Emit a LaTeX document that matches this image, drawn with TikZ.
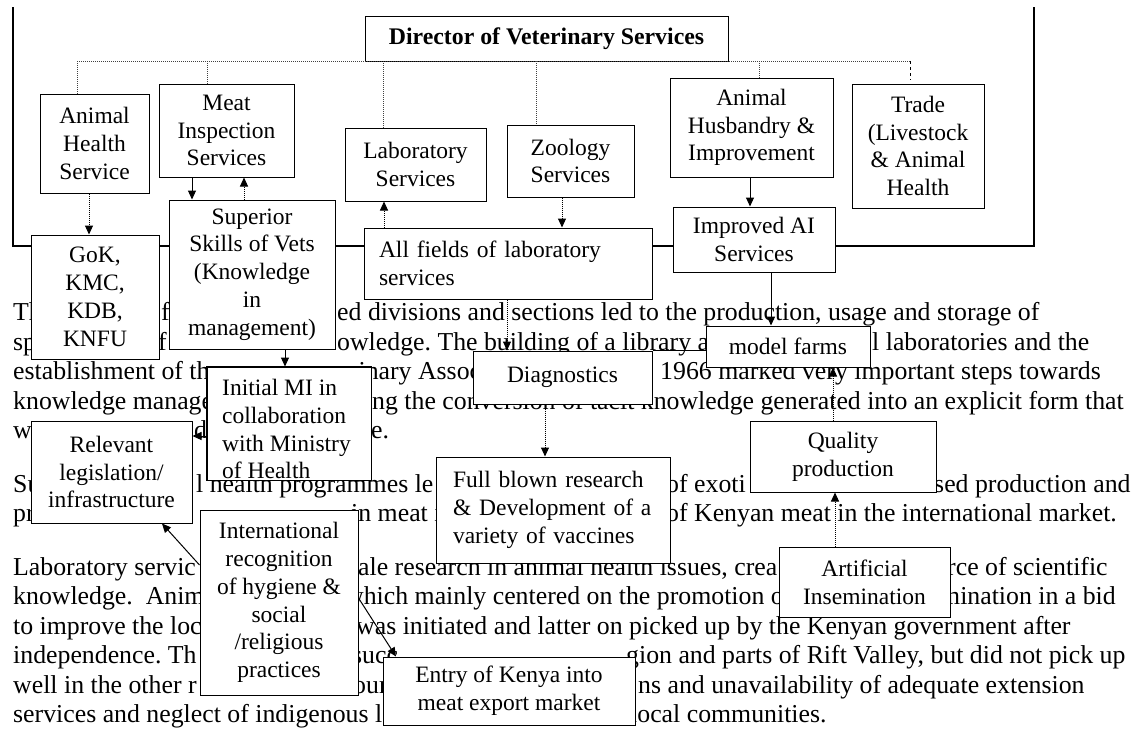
\documentclass[tikz,border=0pt]{standalone}
\usepackage{fontspec}
\setmainfont{Liberation Serif}
\usetikzlibrary{arrows.meta}
\newcommand\bxfont{\fontsize{23.5}{27.8}\selectfont}
\newcommand\pfont{\fontsize{25.8}{29.5}\selectfont}
\newcommand\dirfont{\fontsize{23.8}{28}\selectfont\bfseries}
\begin{document}
\frenchspacing
\begin{tikzpicture}[x=1pt,y=-1pt,
  bx/.style={draw=black, line width=1pt, fill=white, inner sep=0pt, align=center, font=\bxfont},
  ptxt/.style={anchor=base west, inner sep=0pt, font=\pfont},
  frame/.style={line width=2.4pt},
  bus/.style={line width=1pt, densely dotted, black!75},
  arr/.style={line width=1pt, -{Triangle[width=8pt,length=9pt]}},
  arrd/.style={arr, densely dotted}]
\useasboundingbox (0,0) rectangle (1139,732);
% ---------- paragraph text (partly hidden by boxes) ----------
\node[ptxt] (p1a) at (13,320.5) {Th};
\node[ptxt] (p1b) at (148,320.5) {of};
\node[ptxt] (p1c) at (337,320.5) {ed divisions and sections led to the production, usage and storage of};
\node[ptxt] (p2a) at (13,350) {sp};
\node[ptxt] (p2b) at (158,350) {f};
\node[ptxt] (p2c) at (337,350) {owledge. The building of a library a};
\node[ptxt] (p2d) at (872,350) {l laboratories and the};
\node[ptxt] (p3a) at (13,379.5) {establishment of th};
\node[ptxt] (p3c) at (358.4,379.5) {inary Assoc};
\node[ptxt] (p3b) at (660,379.5) {1966 marked very important steps towards};
\node[ptxt] (p4a) at (13,409) {knowledge manage};
\node[ptxt] (p4b) at (372,409) {ng the conversion of tacit knowledge generated into an explicit form that};
\node[ptxt] (p5a) at (13,438.5) {w};
\node[ptxt] (p5b) at (194,438.5) {d};
\node[ptxt] (p5c) at (358,438.5) {ge.};
\node[ptxt] (q1a) at (13,492) {Su};
\node[ptxt] (q1b) at (196,492) {l health programmes le};
\node[ptxt] (q1c) at (666,492) {of exoti};
\node[ptxt] (q1d) at (934,492) {sed production and};
\node[ptxt] (q2a) at (13,521.5) {pr};
\node[ptxt] (q2b) at (351,521.5) {in meat i};
\node[ptxt] (q2c) at (666,521.5) {of Kenyan meat in the international market.};
\node[ptxt] (r1a) at (13,575) {Laboratory servic};
\node[ptxt] (r1b) at (336.5,575) {scale research in animal health issues, crea};
\node[ptxt] (r1c) at (947,575) {rce of scientific};
\node[ptxt] (r2a) at (13,604.5) {knowledge.~~Anim};
\node[ptxt] (r2b) at (345,604.5) {which mainly centered on the promotion o};
\node[ptxt] (r2c) at (940,604.5) {mination in a bid};
\node[ptxt] (r3a) at (13,634) {to improve the loc};
\node[ptxt] (r3b) at (356,634) {was initiated and latter on picked up by the Kenyan government after};
\node[ptxt] (r4a) at (13,663.5) {independence. Th};
\node[ptxt] (r4b) at (352,663.5) {succ};
\node[ptxt] (r4c) at (626,663.5) {gion and parts of Rift Valley, but did not pick up};
\node[ptxt] (r5a) at (13,693) {well in the other r};
\node[ptxt] (r5b) at (353,693) {our};
\node[ptxt] (r5c) at (638,693) {ns and unavailability of adequate extension};
\node[ptxt] (r6a) at (13,722.5) {services and neglect of indigenous l};
\node[ptxt] (r6b) at (630,722.5) {local communities.};
% ---------- outer frame ----------
\coordinate (f1) at (13,7); \coordinate (f2) at (13,246);
\coordinate (f3) at (1034,246); \coordinate (f4) at (1034,7);
\draw[frame] (f1) -- (f2) -- (f3) -- (f4);
% ---------- boxes ----------
\node[bx, minimum width=363pt, minimum height=45pt, font=\dirfont] (dir) at (546.5,38.5) {Director of Veterinary Services};
\coordinate (b1) at (77,61); \coordinate (b2) at (207,61); \coordinate (b3) at (383,61);
\coordinate (b4) at (536,61); \coordinate (b5) at (759,61); \coordinate (b6) at (910,61);
\node[bx, minimum width=109pt, minimum height=99pt] (ahs) at (94.5,143.5) {Animal\\Health\\Service};
\node[bx, minimum width=135pt, minimum height=93pt] (mis) at (226.5,130.5) {Meat\\Inspection\\Services};
\node[bx, minimum width=141pt, minimum height=73pt] (lab) at (415.5,164.5) {Laboratory\\Services};
\node[bx, minimum width=127pt, minimum height=72pt] (zoo) at (570.5,161) {Zoology\\Services};
\node[bx, minimum width=163pt, minimum height=99pt] (ahi) at (751.5,127.5) {Animal\\Husbandry \&\\Improvement};
\node[bx, minimum width=132pt, minimum height=124pt] (trade) at (918,146) {Trade\\(Livestock\\\& Animal\\Health};
\draw[bus] (b1) -- (b6);
\draw[bus] (b1) -- (b1 |- ahs.north);
\draw[bus] (b2) -- (b2 |- mis.north);
\draw[bus] (b3) -- (b3 |- lab.north);
\draw[bus] (b4) -- (b4 |- zoo.north);
\draw[bus] (b5) -- (b5 |- ahi.north);
\draw[line width=1pt, dashed] (b6) -- ([yshift=4pt]b6 |- trade.north);
\node[bx, minimum width=128pt, minimum height=124pt] (gok) at (95,297) {GoK,\\KMC,\\KDB,\\KNFU};
\node[bx, minimum width=166pt, minimum height=149pt] (sup) at (252,274.5) {Superior\\Skills of Vets\\(Knowledge\\in\\management)};
\node[bx, minimum width=288pt, minimum height=71pt, text width=258pt, align=left] (allf) at (508,263.5) {All fields of laboratory\\services};
\node[bx, minimum width=162pt, minimum height=65pt] (iai) at (754,239.5) {Improved AI\\Services};
\node[bx, minimum width=164pt, minimum height=41pt] (mf) at (788,346.5) {model farms};
\node[bx, minimum width=179pt, minimum height=53pt] (diag) at (562.5,377.5) {Diagnostics};
\node[bx, minimum width=186pt, minimum height=71pt] (qp) at (843,456.5) {Quality\\production};
\node[bx, minimum width=234pt, minimum height=106pt, text width=200pt, align=left] (fb) at (553,510) {Full blown research\\\& Development of a\\variety of vaccines};
\node[bx, minimum width=171pt, minimum height=70pt] (ai) at (864.5,582) {Artificial\\Insemination};
\node[bx, minimum width=164pt, minimum height=113pt] (imi) at (289,423.5) {};
\begin{scope}
  \clip (imi.north west) rectangle (imi.south east);
  \node[anchor=north west, inner sep=0pt, align=left, font=\bxfont] (imit) at (222,379) {Initial MI in\\collaboration\\with Ministry\\of Health};
\end{scope}
\draw[line width=1pt] (imi.north west) rectangle (imi.south east);
\node[bx, minimum width=161pt, minimum height=102pt] (rel) at (111.5,472) {Relevant\\legislation/\\infrastructure};
\node[bx, minimum width=158pt, minimum height=185pt] (intl) at (279,602.5) {International\\recognition\\of hygiene \&\\social\\/religious\\practices};
\node[bx, minimum width=252pt, minimum height=68pt] (entry) at (509,691) {Entry of Kenya into\\meat export market};
% ---------- arrows ----------
\coordinate (xa1) at (89,0);  \coordinate (xa2) at (192,0); \coordinate (xa3) at (244,0);
\coordinate (xa4) at (384,0); \coordinate (xa5) at (562,0); \coordinate (xa6) at (750,0);
\coordinate (xa7) at (771,0); \coordinate (xa8) at (507,0); \coordinate (xa9) at (285,0);
\coordinate (xa10) at (545,0); \coordinate (xa11) at (833,0); \coordinate (xa12) at (835,0);
\draw[arrd] (ahs.south -| xa1) -- (gok.north -| xa1);
\draw[arr] (mis.south -| xa2) -- (sup.north -| xa2);
\draw[arrd] (sup.north -| xa3) -- (mis.south -| xa3);
\draw[arrd] (allf.north -| xa4) -- (lab.south -| xa4);
\draw[arrd] (zoo.south -| xa5) -- (allf.north -| xa5);
\draw[arr] (ahi.south -| xa6) -- (iai.north -| xa6);
\draw[arr] (iai.south -| xa7) -- (mf.north -| xa7);
\draw[arrd] (allf.south -| xa8) -- (diag.north -| xa8);
\draw[arr] (sup.south -| xa9) -- (imi.north -| xa9);
\draw[arrd] (diag.south -| xa10) -- (fb.north -| xa10);
\draw[arrd] (qp.north -| xa11) -- (mf.south -| xa11);
\draw[arrd] (ai.north -| xa12) -- (qp.south -| xa12);
\draw[line width=0.8pt] (diag.north east) -- (diag.north east -| mf.west);
\coordinate (ya) at (0,565); \coordinate (xb) at (162,0);
\coordinate (yb) at (0,598); \coordinate (xc) at (396,0);
\coordinate (yc) at (0,436);
\draw[arr] (intl.west |- ya) -- (rel.south -| xb);
\draw[arr] (intl.east |- yb) -- (entry.north -| xc);
\draw[arr] (imi.west |- yc) -- (rel.east |- yc);
\end{tikzpicture}
\end{document}
